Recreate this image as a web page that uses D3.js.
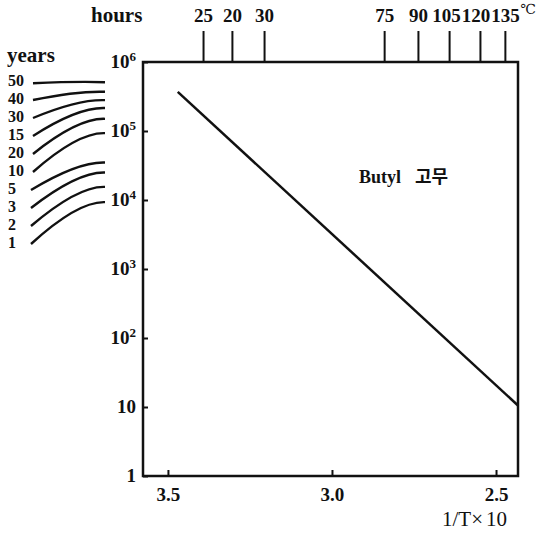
<!DOCTYPE html>
<html>
<head>
<meta charset="utf-8">
<script src="https://cdn.jsdelivr.net/npm/d3@7"></script>
<style>
  body { margin: 0; background: #fff; }
  svg text { font-family: "Liberation Serif", "DejaVu Serif", serif; font-weight: bold; fill: #111; }
</style>
</head>
<body>
<svg id="chart"></svg>
<script>
var width = 546;
var height = 534;

// main line: 1/T x 10 vs hours
var lineX = [3.47, 2.433];
var lineHours = [370000, 10.5];

// bottom axis ticks
var xTicks = [3.5, 3.0, 2.5];
// left axis decades
var yTicks = [1, 10, 100, 1000, 10000, 100000, 1000000];

// top scale: temperature marks (position in 1/T x 10) and labels
var tempPos = [3.393, 3.305, 3.207, 2.841, 2.738, 2.643, 2.549, 2.473];
var tempLabels = ["25", "20", "30", "75", "90", "105", "120", "135"];

// left "years" conversion curves: labels and hours where each curve ends
var yearLabels = ["50", "40", "30", "15", "20", "10", "5", "3", "2", "1"];
var yearHours = [510000, 370000, 280000, 215000, 150000, 93000, 35000, 25000, 15500, 9300];

var svg = d3.select("#chart").attr("width", width).attr("height", height);

var x = d3.scaleLinear().domain([3.576, 2.433]).range([143, 518]);
var y = d3.scaleLog().domain([1, 1e6]).range([476, 62]);

// frame
svg.append("rect")
    .attr("x", x.range()[0]).attr("y", y.range()[1])
    .attr("width", x.range()[1] - x.range()[0])
    .attr("height", y.range()[0] - y.range()[1])
    .attr("fill", "none").attr("stroke", "#111").attr("stroke-width", 2.5);

// bottom axis (inward ticks)
var xAxis = svg.append("g")
    .attr("transform", "translate(0," + y.range()[0] + ")")
    .call(d3.axisBottom(x).tickValues(xTicks).tickSize(-6).tickPadding(12)
        .tickFormat(d3.format(".1f")));
xAxis.select(".domain").remove();
xAxis.selectAll("line").attr("stroke", "#111").attr("stroke-width", 2);
xAxis.selectAll("text").attr("font-size", 19).attr("dy", "0.71em");

var xt = svg.append("text")
    .attr("x", 507).attr("y", 526)
    .attr("text-anchor", "end").attr("font-size", 21)
    .style("font-weight", "normal");
xt.append("tspan").text("1/T×");
xt.append("tspan").attr("dx", 3).text("10");

// left axis (inward ticks) with superscript labels
var yAxis = svg.append("g")
    .attr("transform", "translate(" + x.range()[0] + ",0)")
    .call(d3.axisLeft(y).tickValues(yTicks).tickSize(-5).tickFormat(""));
yAxis.select(".domain").remove();
yAxis.selectAll("line").attr("stroke", "#111").attr("stroke-width", 2);

var yLab = svg.append("g").selectAll("text")
    .data(yTicks).enter().append("text")
    .attr("x", 136)
    .attr("y", function(d) { return y(d) + 6; })
    .attr("text-anchor", "end")
    .attr("font-size", 19);
yLab.each(function(d) {
    var e = Math.round(Math.log10(d));
    var t = d3.select(this);
    if (e <= 1) { t.text(String(d)); return; }
    t.append("tspan").text("10");
    t.append("tspan").attr("font-size", 13).attr("dy", -7).text(e);
});

// top temperature scale
var tempAxis = svg.append("g")
    .attr("transform", "translate(0," + y.range()[1] + ")")
    .call(d3.axisTop(x).tickValues(tempPos).tickSize(31).tickPadding(9)
        .tickFormat(function(d, i) { return tempLabels[i]; }));
tempAxis.select(".domain").remove();
tempAxis.selectAll("line").attr("stroke", "#111").attr("stroke-width", 2);
var tempText = tempAxis.selectAll("text").attr("font-size", 19).attr("dy", 0);

// push crowded labels to the left so they don't run into each other
var nodes = tempText.nodes();
var limit = Infinity;
for (var i = nodes.length - 1; i >= 0; i--) {
    var w = nodes[i].getComputedTextLength();
    var cx = x(tempPos[i]);
    if (cx + w / 2 > limit - 1) cx = limit - 1 - w / 2;
    d3.select(nodes[i]).attr("x", cx - x(tempPos[i]));
    limit = cx - w / 2;
}

var lastW = nodes[nodes.length - 1].getComputedTextLength();
svg.append("text")
    .attr("x", x(tempPos[tempPos.length - 1]) + lastW / 2 + 1).attr("y", 14)
    .attr("font-size", 14).style("font-weight", "normal")
    .text("℃");

svg.append("text")
    .attr("x", 91).attr("y", 22).attr("font-size", 21)
    .text("hours");

// years column
svg.append("text")
    .attr("x", 7).attr("y", 62).attr("font-size", 21)
    .text("years");

var ly = d3.scalePoint().domain(yearLabels).range([86, 248]);

svg.append("g").selectAll("text")
    .data(yearLabels).enter().append("text")
    .attr("x", 8).attr("y", function(d) { return ly(d); })
    .attr("font-size", 16)
    .text(function(d) { return d; });

svg.append("g").selectAll("path")
    .data(yearLabels).enter().append("path")
    .attr("fill", "none").attr("stroke", "#111").attr("stroke-width", 2.4)
    .attr("d", function(d, i) {
        var x0 = d.length > 1 ? 33 : 31, y0 = ly(d) - 4;
        var x1 = 105, y1 = y(yearHours[i]);
        if (i === 0) { y0 = y1 + 1; }
        return "M" + x0 + "," + y0 + "Q" + 78 + "," + (y1 - 1) + " " + x1 + "," + y1;
    });

// main line
var line = d3.line()
    .x(function(d, i) { return x(lineX[i]); })
    .y(function(d) { return y(d); });
svg.append("path")
    .datum(lineHours)
    .attr("fill", "none").attr("stroke", "#111").attr("stroke-width", 2.5)
    .attr("d", line);

// label
var lab = svg.append("text")
    .attr("x", x(2.918)).attr("y", y(17600)).attr("font-size", 18);
lab.append("tspan").text("Butyl");
lab.append("tspan")
    .attr("font-family", "'Noto Sans CJK KR', sans-serif")
    .attr("font-size", 18).attr("dx", 14)
    .text("고무");
</script>
</body>
</html>
